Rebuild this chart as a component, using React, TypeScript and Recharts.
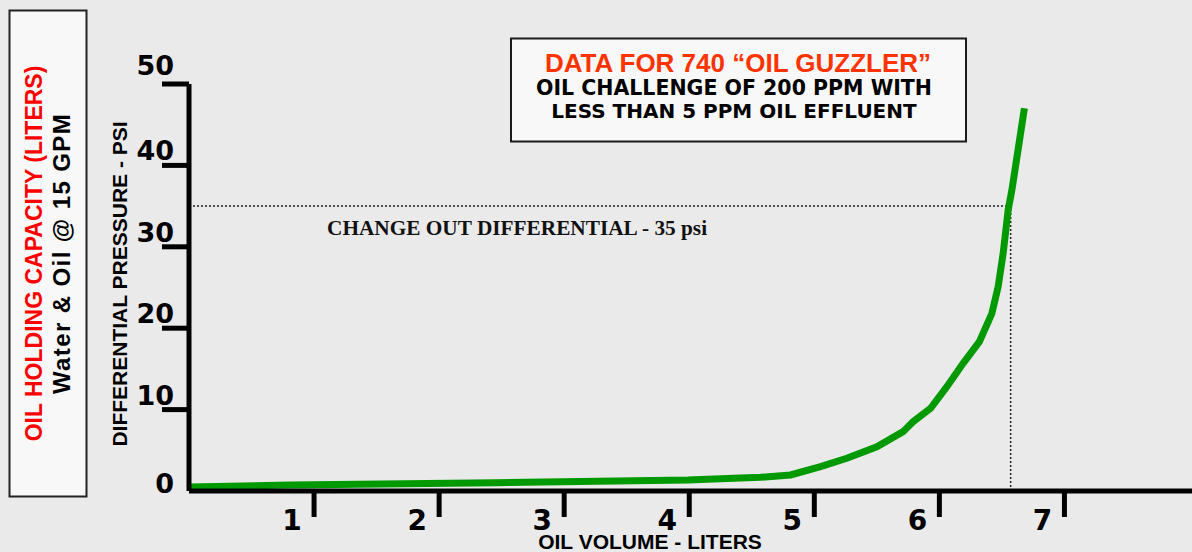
import React from 'react';
import { LineChart, Line, XAxis, YAxis, ReferenceLine } from 'recharts';

// ---- data ----
const oilVolumeLiters = [0, 0.81, 2.45, 3.99, 4.57, 4.81, 5.05, 5.26, 5.5, 5.71, 5.79, 5.93, 6.06, 6.19, 6.32, 6.42, 6.47, 6.51, 6.55, 6.58, 6.68];
const diffPressurePsi = [0.5, 0.74, 1.02, 1.35, 1.68, 1.97, 2.99, 4.02, 5.44, 7.29, 8.51, 10.16, 12.81, 15.69, 18.34, 21.83, 25.1, 29.2, 34.52, 36.98, 47.02];
const xTicks = [1, 2, 3, 4, 5, 6, 7];
const yTicks = [0, 10, 20, 30, 40, 50];
const changeOutPsi = 35;
const changeOutVolume = 6.57;

const titleLine1 = 'DATA FOR 740 \u201COIL GUZZLER\u201D';
const titleLine2 = 'OIL CHALLENGE OF 200 PPM WITH';
const titleLine3 = 'LESS THAN 5 PPM OIL EFFLUENT';
const sideTitleRed = 'OIL HOLDING CAPACITY (LITERS)';
const sideTitleBlack = 'Water & Oil @ 15 GPM';
const yAxisTitle = 'DIFFERENTIAL PRESSURE - PSI';
const xAxisTitle = 'OIL VOLUME - LITERS';
const changeOutLabel = 'CHANGE OUT DIFFERENTIAL - 35 psi';

const data = oilVolumeLiters.map((x, i) => ({ x, y: diffPressurePsi[i] }));

const SANS = "'Liberation Sans', Arial, sans-serif";
const WIDE = "'DejaVu Sans', Verdana, sans-serif";
const SERIF = "'Liberation Serif', 'Times New Roman', serif";

const XTick = (props: any) => {
  const { x, y, payload } = props;
  return (
    <g>
      <line x1={x} x2={x} y1={y} y2={y + 26} stroke="#000" strokeWidth={5} />
      <text x={x - 22} y={y + 39} textAnchor="middle" fontFamily={WIDE} fontWeight="bold" fontSize={28} fill="#000">
        {payload.value}
      </text>
    </g>
  );
};

const yLabelShift: Record<number, number> = { 0: 2, 50: -9 };

const YTick = (props: any) => {
  const { x, y, payload } = props;
  const v = payload.value;
  const dy = yLabelShift[v] ?? -5;
  return (
    <g>
      {v !== 0 && <line x1={x - 27} x2={x} y1={y} y2={y} stroke="#000" strokeWidth={5} />}
      <text x={x - 15} y={y + dy} textAnchor="end" fontFamily={WIDE} fontWeight="bold" fontSize={27} fill="#000">
        {v}
      </text>
    </g>
  );
};

export default function App() {
  return (
    <div style={{ position: 'absolute', left: 0, top: 0, width: 1192, height: 552, background: '#eaeaea', overflow: 'hidden' }}>
      <LineChart width={1192} height={552} data={data} margin={{ top: 84, right: 0, bottom: 0, left: 0 }}>
        <XAxis
          type="number"
          dataKey="x"
          domain={[0, 8.02]}
          ticks={xTicks}
          height={61}
          axisLine={{ stroke: '#000', strokeWidth: 5 }}
          tickLine={false}
          tickSize={0}
          tickMargin={0}
          tick={XTick}
          interval={0}
          label={(p: any) => {
            const vb = p.viewBox || { x: 189, y: 491 };
            return (
              <text x={vb.x + 461} y={vb.y + 58} textAnchor="middle" fontFamily={SANS} fontWeight="bold" fontSize={21} fill="#000">
                {xAxisTitle}
              </text>
            );
          }}
        />
        <YAxis
          type="number"
          domain={[0, 50]}
          ticks={yTicks}
          width={189}
          axisLine={{ stroke: '#000', strokeWidth: 5 }}
          tickLine={false}
          tickSize={0}
          tickMargin={0}
          tick={YTick}
          interval={0}
          label={(p: any) => {
            const vb = p.viewBox || { x: 0, y: 84 };
            return (
              <text transform={`translate(${vb.x + 126.5},${vb.y + 200}) rotate(-90)`} textAnchor="middle" fontFamily={SANS} fontWeight="bold" fontSize={21} fill="#000">
                {yAxisTitle}
              </text>
            );
          }}
        />
        <ReferenceLine
          segment={[{ x: 0, y: changeOutPsi }, { x: changeOutVolume, y: changeOutPsi }]}
          stroke="#222"
          strokeWidth={1.5}
          strokeDasharray="2 2"
          label={(p: any) => {
            const vb = p.viewBox || { x: 189, y: 206 };
            return (
              <text x={vb.x + 138} y={vb.y + 29} fontFamily={SERIF} fontWeight="bold" fontSize={21.3} fill="#111">
                {changeOutLabel}
              </text>
            );
          }}
        />
        <ReferenceLine
          segment={[{ x: changeOutVolume, y: 0 }, { x: changeOutVolume, y: changeOutPsi }]}
          stroke="#222"
          strokeWidth={1.5}
          strokeDasharray="2 2"
        />
        <Line
          type="linear"
          dataKey="y"
          stroke="#009a00"
          strokeWidth={7}
          dot={false}
          activeDot={false}
          isAnimationActive={false}
        />
      </LineChart>
      <svg width={1192} height={552} style={{ position: 'absolute', left: 0, top: 0, pointerEvents: 'none' }}>
        <rect x={9.5} y={10.5} width={77} height={486} fill="#f8f8f8" stroke="#222" strokeWidth={2} />
        <text transform="translate(41.5,253.5) rotate(-90)" textAnchor="middle" fontFamily={SANS} fontWeight="bold" fontSize={23} fill="#ff0000">
          {sideTitleRed}
        </text>
        <text transform="translate(70,253.5) rotate(-90)" textAnchor="middle" fontFamily={SANS} fontWeight="bold" fontSize={24} letterSpacing={1.4} fill="#000">
          {sideTitleBlack}
        </text>
        <rect x={511} y={38.5} width={455} height={103} fill="#f8f8f8" stroke="#1a1a1a" strokeWidth={2} />
        <text x={738} y={71.5} textAnchor="middle" fontFamily={SANS} fontWeight="bold" fontSize={26} fill="#ff3300">
          {titleLine1}
        </text>
        <text x={734} y={95} textAnchor="middle" fontFamily={WIDE} fontWeight="bold" fontSize={20.5} fill="#000">
          {titleLine2}
        </text>
        <text x={734} y={117.5} textAnchor="middle" fontFamily={WIDE} fontWeight="bold" fontSize={20} fill="#000">
          {titleLine3}
        </text>
      </svg>
    </div>
  );
}
